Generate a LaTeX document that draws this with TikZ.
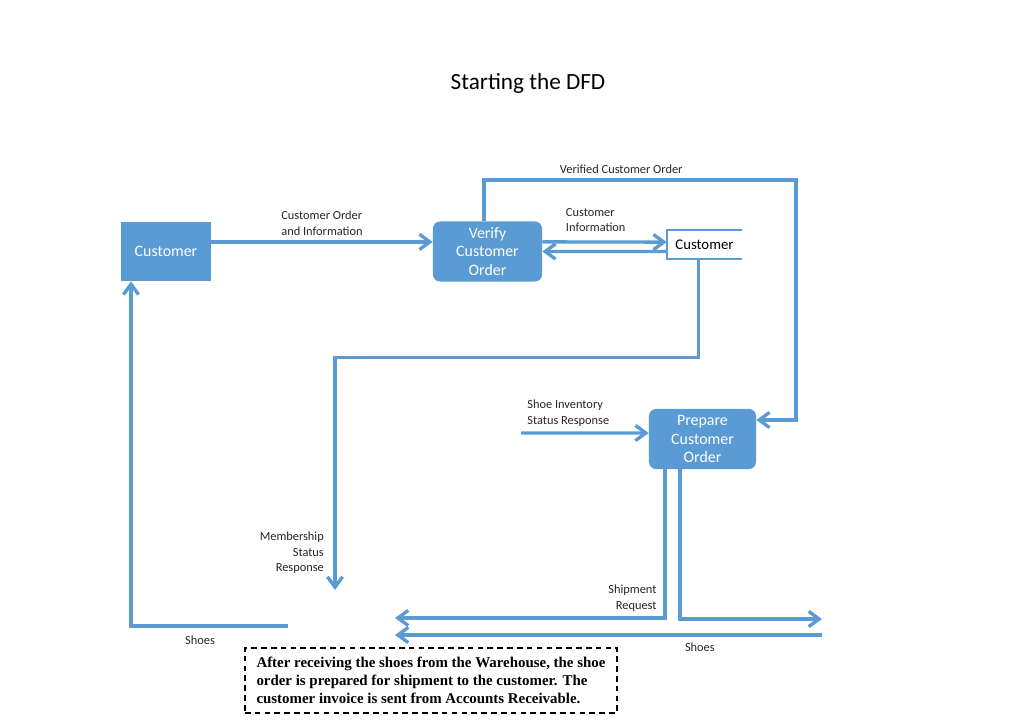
\documentclass[tikz,border=0pt]{standalone}
\usepackage{fontspec}
\setmainfont{Carlito}
\newfontfamily\notefont{Liberation Serif}
\usetikzlibrary{arrows.meta}
\definecolor{dfdblue}{HTML}{5B9BD5}

\begin{document}
\begin{tikzpicture}[x=0.025cm, y=-0.025cm,
    flow/.style={draw=dfdblue, line width=2.4pt, -{Straight Barb[length=2.6mm, width=3.8mm]}},
    wire/.style={draw=dfdblue, line width=1.5pt},
    entity/.style={rectangle, fill=dfdblue, text=white, font=\fontsize{11.3}{13}\selectfont, minimum width=2.25cm, minimum height=1.475cm, inner sep=1pt},
    process/.style={rectangle, rounded corners=5pt, fill=dfdblue, text=white, align=center, font=\fontsize{11.3}{13}\selectfont, minimum height=1.5cm, inner sep=1pt},
    datastore/.style={rectangle, minimum width=1.875cm, minimum height=0.725cm, font=\fontsize{10.5}{12}\selectfont},
    lbl/.style={font=\fontsize{8.8}{11.3}\selectfont, text=black!85},
    note/.style={draw, dashed, dash pattern=on 4pt off 3pt, line width=1pt, minimum width=9.3cm, minimum height=1.625cm, inner xsep=5pt, inner ysep=0pt, align=left, font=\notefont\bfseries\fontsize{10.6}{12.8}\selectfont}]
    \useasboundingbox (0,0) rectangle (1024,728);
    \node [font=\fontsize{16.5}{19}\selectfont] (title) at (528,83) {Starting the DFD};
    \node [entity] (cust) at (166,251.5) {Customer};
    \node [process, minimum width=2.725cm] (verify) at (487.5,251.5) {Verify\\Customer\\Order};
    \node [datastore] (store) at (704.5,244.5) {Customer};
    \node [process, minimum width=2.675cm] (prep) at (702.5,439) {Prepare\\Customer\\Order};
    \node [note] (note) at (431,680.5) {After receiving the shoes from the Warehouse, the shoe\\order is prepared for shipment to the customer. The\\customer invoice is sent from Accounts Receivable.};
    \draw [wire] (store.north east) -- (store.north west) -- (store.south west) -- (store.south east);

    \coordinate (vtop) at (796,180);
    \coordinate (membEnd) at (335,590);
    \coordinate (sisr) at (521,433);
    \coordinate (shipEnd) at (395,618);
    \coordinate (shoesOut) at (822,619);
    \coordinate (shoesIn) at (822,635);
    \coordinate (shoesInEnd) at (395,635);
    \coordinate (shoesBack) at (288,626);

    \path [flow] ([yshift=0.24cm]cust.east) -- node [lbl, above, align=left] {Customer Order\\and Information} ([yshift=0.24cm]verify.west);
    \path [flow] ([yshift=0.24cm]verify.east) -- ([yshift=0.06cm]store.west);
    \path [flow] ([yshift=-0.175cm]store.west) -- (verify.east);
    \node [lbl, align=left, anchor=south west] (ciLbl) at (561,237) {Customer\\Information};
    \path [flow] ([xshift=-0.09cm]verify.north) |- node [lbl, pos=0.72, above] {Verified Customer Order} (vtop) |- ([yshift=0.475cm]prep.east);
    \path [flow] ([xshift=-0.15cm]store.south) -- ++(0,98) -| node [lbl, pos=0.92, left, align=right, xshift=-0.12cm] {Membership\\Status\\Response} (membEnd);
    \path [flow] (sisr) -- node [lbl, pos=0, above right, align=left] {Shoe Inventory\\Status Response} ([yshift=0.15cm]prep.west);
    \path [flow] ([xshift=-0.94cm]prep.south) |- node [lbl, pos=0.5, above left, align=right, xshift=-0.05cm] {Shipment\\Request} (shipEnd);
    \path [flow] ([xshift=-0.5625cm]prep.south) |- (shoesOut);
    \path [flow] (shoesIn) -- node [lbl, pos=0.286, below, yshift=-0.05cm] {Shoes} (shoesInEnd);
    \path [flow] (shoesBack) -| node [lbl, pos=0.28, below, yshift=-0.1cm] {Shoes} ([xshift=-0.875cm]cust.south);
\end{tikzpicture}
\end{document}
